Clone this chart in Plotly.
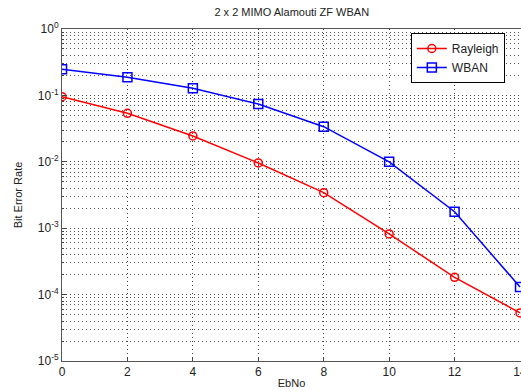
import plotly.graph_objects as go

ebno = [0, 2, 4, 6, 8, 10, 12, 14]
rayleigh = [0.0957, 0.0537, 0.0245, 0.0096, 0.00343, 0.00082, 0.000182, 0.000053]
wban = [0.247, 0.187, 0.128, 0.0742, 0.0338, 0.0100, 0.00177, 0.000130]

ytick_vals = [1e0, 1e-1, 1e-2, 1e-3, 1e-4, 1e-5]
ytick_text = ["10<sup>0</sup>", "10<sup>-1</sup>", "10<sup>-2</sup>", "10<sup>-3</sup>",
              "10<sup>-4</sup>", "10<sup>-5</sup>"]
xtick_vals = [0, 2, 4, 6, 8, 10, 12, 14]

fig = go.Figure()
fig.add_trace(go.Scatter(x=ebno, y=rayleigh, name="Rayleigh", mode="lines+markers",
                         line=dict(color="#ff0000", width=1.5),
                         marker=dict(symbol="circle-open", size=8, color="#ff0000",
                                     line=dict(width=1.5))))
fig.add_trace(go.Scatter(x=ebno, y=wban, name="WBAN", mode="lines+markers",
                         line=dict(color="#0000ff", width=1.5),
                         marker=dict(symbol="square-open", size=9, color="#0000ff",
                                     line=dict(width=1.5))))

grid_dash = "1px,3px"

fig.update_layout(
    width=521, height=392,
    margin=dict(l=62, r=0, t=29, b=31),
    paper_bgcolor="white", plot_bgcolor="white",
    font=dict(family="Liberation Sans, Arial, sans-serif", size=11, color="#222"),
    title=dict(text="2 x 2 MIMO Alamouti ZF WBAN", x=0.56, xanchor="center",
               y=0.969, yanchor="middle", font=dict(size=11)),
    showlegend=True,
    legend=dict(x=0.76, y=0.988, xanchor="left", yanchor="top",
                bgcolor="white", bordercolor="#000", borderwidth=1,
                font=dict(size=12), tracegroupgap=0, itemwidth=30),
)
fig.update_xaxes(
    range=[0, 14.03], tickvals=xtick_vals, ticks="inside", ticklen=4,
    showline=True, linecolor="#555", linewidth=1, mirror=True,
    showgrid=True, gridcolor="#444", griddash=grid_dash, gridwidth=1,
    zeroline=False, automargin=False, ticklabeloverflow="allow",
    title=dict(text="EbNo", standoff=0, font=dict(size=11)),
    tickfont=dict(size=12),
)
fig.update_yaxes(
    type="log", range=[-5, 0], tickvals=ytick_vals, ticktext=ytick_text,
    ticks="inside", ticklen=4,
    showline=True, linecolor="#555", linewidth=1, mirror=True,
    showgrid=True, gridcolor="#444", griddash=grid_dash, gridwidth=1,
    minor=dict(showgrid=True, gridcolor="#555", griddash=grid_dash, gridwidth=1,
               ticks="inside", ticklen=2, dtick="D1"),
    zeroline=False, automargin=False,
    title=dict(text="Bit Error Rate", standoff=12, font=dict(size=11)),
    tickfont=dict(size=12),
)

fig.write_html(
    "out.html",
    config={"displayModeBar": False},
    post_script="document.body.style.margin='0';document.body.style.overflow='hidden';",
)
